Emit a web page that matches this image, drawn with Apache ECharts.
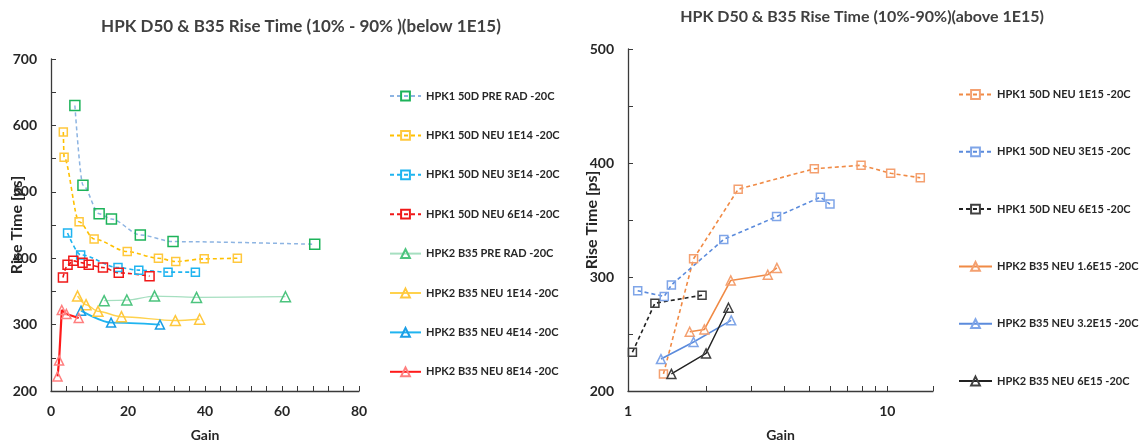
<!DOCTYPE html>
<html>
<head>
<meta charset="utf-8">
<script src="https://cdn.jsdelivr.net/npm/echarts@6/dist/echarts.min.js"></script>
<style>
html,body{margin:0;padding:0;background:#fff;}
#c{width:1143px;height:447px;}
</style>
</head>
<body>
<div id="c"></div>
<script>
// ---- Left chart data (below 1E15): [gain, rise time ps]
const hpk1PreRad = [[6.2,630],[8.3,510],[12.5,467],[15.7,459],[23.2,435],[31.7,425],[68.5,421]];
const hpk1Neu1e14 = [[3.2,590],[3.4,552],[7.3,455],[11.2,429],[19.8,410],[27.9,400],[32.4,395],[39.8,399],[48.4,400]];
const hpk1Neu3e14 = [[4.3,438],[7.7,405],[17.4,386],[22.8,382],[30.4,379],[37.5,379]];
const hpk1Neu6e14 = [[3.1,371],[4.3,390],[5.8,396],[8.2,393],[9.8,390],[13.5,386],[17.6,378],[25.6,373]];
const hpk2PreRad = [[13.8,336],[19.7,337],[26.9,343],[37.8,341],[60.9,342]];
const hpk2Neu1e14 = [[6.9,343],[9.1,330],[12.2,320],[18.3,312],[32.3,306],[38.6,308]];
const hpk2Neu4e14 = [[7.8,321],[15.6,303],[28.3,300]];
const hpk2Neu8e14 = [[1.7,222],[2.1,246],[2.8,322],[4.0,316],[7.2,310]];
// ---- Right chart data (above 1E15)
const hpk1Neu1e15 = [[1.37,215],[1.79,316],[2.66,377],[5.23,395],[7.92,398],[10.3,391],[13.4,387]];
const hpk1Neu3e15 = [[1.09,288],[1.38,283],[1.47,293],[2.34,333],[3.74,353],[5.52,370],[6.01,364]];
const hpk1Neu6e15 = [[1.04,234],[1.27,277],[1.93,284]];
const hpk2Neu16e15 = [[1.73,252],[1.97,254],[2.49,297],[3.46,302],[3.75,308]];
const hpk2Neu32e15 = [[1.34,228],[1.79,243],[2.50,262]];
const hpk2Neu6e15 = [[1.47,215],[2.00,233],[2.44,273]];
// ---- names / ticks
const leftNames = ['HPK1 50D PRE RAD -20C','HPK1 50D NEU 1E14 -20C','HPK1 50D NEU 3E14 -20C','HPK1 50D NEU 6E14 -20C','HPK2 B35 PRE RAD -20C','HPK2 B35 NEU 1E14 -20C','HPK2 B35 NEU 4E14 -20C','HPK2 B35 NEU 8E14 -20C'];
const rightNames = ['HPK1 50D NEU 1E15 -20C','HPK1 50D NEU 3E15 -20C','HPK1 50D NEU 6E15 -20C','HPK2 B35 NEU 1.6E15 -20C','HPK2 B35 NEU 3.2E15 -20C','HPK2 B35 NEU 6E15 -20C'];
const rightTickValues = [1,2,3,4,5,6,7,8,9,10,15];
const rightLabelValues = [1,10];

const FONT = 'Lato';
const TXT = '#262626';
const AX = '#3a3a3a';

function ser(name, data, xi, sym, size, mk, lc, type, lw, smooth) {
  return {
    name, type: 'line', data, xAxisIndex: xi, yAxisIndex: xi,
    symbol: sym, symbolSize: size, smooth: smooth || false, smoothMonotone: 'x',
    itemStyle: {color: 'rgba(255,255,255,0)', borderColor: mk, borderWidth: 1.5},
    lineStyle: {color: lc, width: lw, type: type},
    emphasis: {disabled: true}, z: 3
  };
}
const D = [4,3];
const series = [
  ser(leftNames[0], hpk1PreRad, 0, 'rect', 10, '#1DB35A', '#8DB4E2', D, 1.5, 0.3),
  ser(leftNames[1], hpk1Neu1e14, 0, 'rect', 8, '#FFC83D', '#FFC000', D, 1.6, 0.3),
  ser(leftNames[2], hpk1Neu3e14, 0, 'rect', 8, '#1FB4F0', '#1FB4F0', D, 1.6, 0.3),
  ser(leftNames[3], hpk1Neu6e14, 0, 'rect', 9, '#F01818', '#F01818', D, 1.6, 0.3),
  ser(leftNames[4], hpk2PreRad, 0, 'triangle', 10, '#4CC47E', '#A6DFC0', 'solid', 1.2, 0.3),
  ser(leftNames[5], hpk2Neu1e14, 0, 'triangle', 10, '#FFC83D', '#FFD24D', 'solid', 1.5, 0.3),
  ser(leftNames[6], hpk2Neu4e14, 0, 'triangle', 9, '#1A9EE6', '#1FB4F0', 'solid', 1.8, 0.3),
  ser(leftNames[7], hpk2Neu8e14, 0, 'triangle', 9, '#FF7F7F', '#FF1A1A', 'solid', 2.2, 0),
  ser(rightNames[0], hpk1Neu1e15, 1, 'rect', 8, '#F4A070', '#F08A45', D, 1.6, 0),
  ser(rightNames[1], hpk1Neu3e15, 1, 'rect', 8, '#7FA5E8', '#5B8BDC', D, 1.6, 0),
  ser(rightNames[2], hpk1Neu6e15, 1, 'rect', 8, '#404040', '#222222', D, 1.6, 0),
  ser(rightNames[3], hpk2Neu16e15, 1, 'triangle', 9, '#F4A070', '#F08A45', 'solid', 1.6, 0),
  ser(rightNames[4], hpk2Neu32e15, 1, 'triangle', 9, '#7FA5E8', '#5B8BDC', 'solid', 1.6, 0),
  ser(rightNames[5], hpk2Neu6e15, 1, 'triangle', 9, '#404040', '#222222', 'solid', 1.4, 0)
];

const axisLine = {show: true, lineStyle: {color: AX, width: 1.3}};
const labelStyle = {color: TXT, fontFamily: FONT, fontWeight: 'bold', fontSize: 14};
const xNameStyle = {color: TXT, fontFamily: FONT, fontWeight: 'bold', fontSize: 14};
const yNameStyle = {color: TXT, fontFamily: FONT, fontWeight: 'bold', fontSize: 16};

const option = {
  animation: false,
  backgroundColor: '#fff',
  title: [
    {text: 'HPK D50 & B35 Rise Time (10% - 90% )(below 1E15)', left: 296, top: 13, textAlign: 'center',
     textStyle: {fontFamily: FONT, fontWeight: 'bold', fontSize: 17, color: '#404040'}},
    {text: 'HPK D50 & B35 Rise Time (10%-90%)(above 1E15)', left: 857, top: 4, textAlign: 'center',
     textStyle: {fontFamily: FONT, fontWeight: 'bold', fontSize: 16, color: '#404040'}}
  ],
  grid: [
    {left: 51, top: 59, width: 308, height: 334, containLabel: false},
    {left: 628, top: 49, width: 305, height: 342, containLabel: false}
  ],
  xAxis: [
    {type: 'value', gridIndex: 0, min: 0, max: 80, interval: 20,
     name: 'Gain', nameLocation: 'middle', nameGap: 37, nameTextStyle: xNameStyle,
     axisLine, splitLine: {show: false},
     axisTick: {inside: true, length: 5, lineStyle: {color: AX}},
     minorTick: {show: true, splitNumber: 5, length: 5, lineStyle: {color: AX}},
     axisLabel: Object.assign({margin: 13}, labelStyle)},
    {type: 'log', gridIndex: 1, min: 1, max: 15, logBase: 10,
     name: 'Gain', nameLocation: 'middle', nameGap: 37, nameTextStyle: xNameStyle,
     axisLine, splitLine: {show: false},
     axisTick: {inside: true, length: 5, customValues: rightTickValues, lineStyle: {color: AX}},
     minorTick: {show: false},
     axisLabel: Object.assign({margin: 13, customValues: rightLabelValues}, labelStyle)}
  ],
  yAxis: [
    {type: 'value', gridIndex: 0, min: 200, max: 700, interval: 100,
     name: 'Rise Time [ps]', nameLocation: 'middle', nameGap: 26, nameMoveOverlap: false, nameTextStyle: yNameStyle,
     axisLine, splitLine: {show: false},
     axisTick: {inside: true, length: 5, lineStyle: {color: AX}},
     minorTick: {show: true, splitNumber: 2, length: 5, lineStyle: {color: AX}},
     axisLabel: Object.assign({margin: 14}, labelStyle)},
    {type: 'value', gridIndex: 1, min: 200, max: 500, interval: 100,
     name: 'Rise Time [ps]', nameLocation: 'middle', nameGap: 28, nameMoveOverlap: false, nameTextStyle: yNameStyle,
     axisLine, splitLine: {show: false},
     axisTick: {inside: true, length: 5, lineStyle: {color: AX}},
     minorTick: {show: true, splitNumber: 2, length: 5, lineStyle: {color: AX}},
     axisLabel: Object.assign({margin: 14}, labelStyle)}
  ],
  legend: [
    {data: leftNames, orient: 'vertical', left: 384, top: 84, itemWidth: 31, itemHeight: 11, itemGap: 25.4,
     textStyle: {fontFamily: FONT, fontWeight: 'bold', fontSize: 11, color: TXT, lineHeight: 14},
     selectedMode: false},
    {data: rightNames, orient: 'vertical', left: 953, top: 82.5, itemWidth: 33, itemHeight: 11, itemGap: 43.3,
     textStyle: {fontFamily: FONT, fontWeight: 'bold', fontSize: 11, color: TXT, lineHeight: 14},
     selectedMode: false}
  ],
  series
};
const chart = echarts.init(document.getElementById('c'), null, {renderer: 'canvas'});
chart.setOption(option);
</script>
</body>
</html>
